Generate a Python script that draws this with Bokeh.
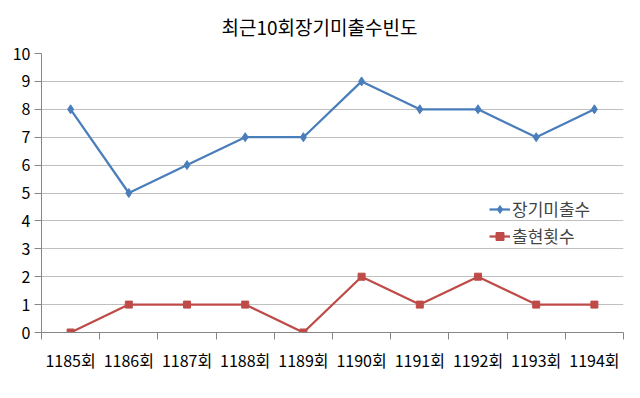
from bokeh.plotting import figure
from bokeh.models import Range1d, FixedTicker, Legend, LegendItem
from bokeh.embed import file_html
from bokeh.resources import INLINE

# ---- data ----
categories = ["1185회", "1186회", "1187회", "1188회", "1189회",
              "1190회", "1191회", "1192회", "1193회", "1194회"]
long_absent = [8, 5, 6, 7, 7, 9, 8, 8, 7, 8]      # 장기미출수
appearances = [0, 1, 1, 1, 0, 2, 1, 2, 1, 1]      # 출현횟수
y_ticks = [0, 1, 2, 3, 4, 5, 6, 7, 8, 9, 10]
series_names = ["장기미출수", "출현횟수"]
title_text = "최근10회장기미출수빈도"

FONT = "Noto Sans CJK KR"
BLUE = "#4a7ebb"
RED = "#be4b48"
AXIS = "#868686"
GRID = "#c0c0c0"

n = len(categories)
xc = [i + 0.5 for i in range(n)]          # category centres
xb = [i for i in range(n + 1)]            # category boundaries

p = figure(width=632, height=390, output_backend="svg", toolbar_location=None,
           x_range=Range1d(0, n), y_range=Range1d(y_ticks[0], y_ticks[-1]),
           min_border_left=41, min_border_right=9,
           min_border_top=52, min_border_bottom=58)
p.outline_line_color = None
p.background_fill_color = "white"
p.border_fill_color = "white"

p.title.text = title_text
p.title.align = "left"
p.title.vertical_align = "top"
p.title.text_font = FONT
p.title.text_font_size = "19px"
p.title.text_font_style = "normal"
p.title.text_color = "black"
p.title.standoff = 24
p.title.offset = 180

# axes
xa = p.xaxis[0]
xa.ticker = FixedTicker(ticks=xc, minor_ticks=xb)
xa.major_label_overrides = {x: c for x, c in zip(xc, categories)}
xa.major_tick_out = 0
xa.major_tick_in = 0
xa.minor_tick_out = 7
xa.minor_tick_in = 0
xa.minor_tick_line_color = AXIS
xa.axis_line_color = AXIS
xa.major_label_text_font = FONT
xa.major_label_text_font_size = "16px"
xa.major_label_text_color = "black"
xa.major_label_standoff = 8

ya = p.yaxis[0]
ya.ticker = FixedTicker(ticks=y_ticks, minor_ticks=[])
ya.major_tick_out = 7
ya.major_tick_in = 0
ya.major_tick_line_color = AXIS
ya.axis_line_color = AXIS
ya.major_label_text_font = FONT
ya.major_label_text_font_size = "16px"
ya.major_label_text_color = "black"
ya.major_label_standoff = 4

p.xgrid.visible = False
p.ygrid.grid_line_color = GRID
p.ygrid.grid_line_width = 1

# series
l1 = p.line(xc, long_absent, line_color=BLUE, line_width=2.25)
s1 = p.scatter(xc, long_absent, marker="diamond", size=9,
               fill_color=BLUE, line_color=BLUE)
l2 = p.line(xc, appearances, line_color=RED, line_width=2.25)
s2 = p.scatter(xc, appearances, marker="square", size=7,
               fill_color=RED, line_color=RED)

legend = Legend(items=[LegendItem(label=series_names[0], renderers=[l1, s1]),
                       LegendItem(label=series_names[1], renderers=[l2, s2])],
                location=(448, 84), orientation="vertical",
                label_text_font=FONT, label_text_font_size="17px",
                glyph_width=21, glyph_height=20, label_height=20,
                label_standoff=2, spacing=2, padding=0, margin=0,
                border_line_alpha=0, background_fill_alpha=0)
p.add_layout(legend)

open("out.html", "w").write(file_html(p, INLINE))
